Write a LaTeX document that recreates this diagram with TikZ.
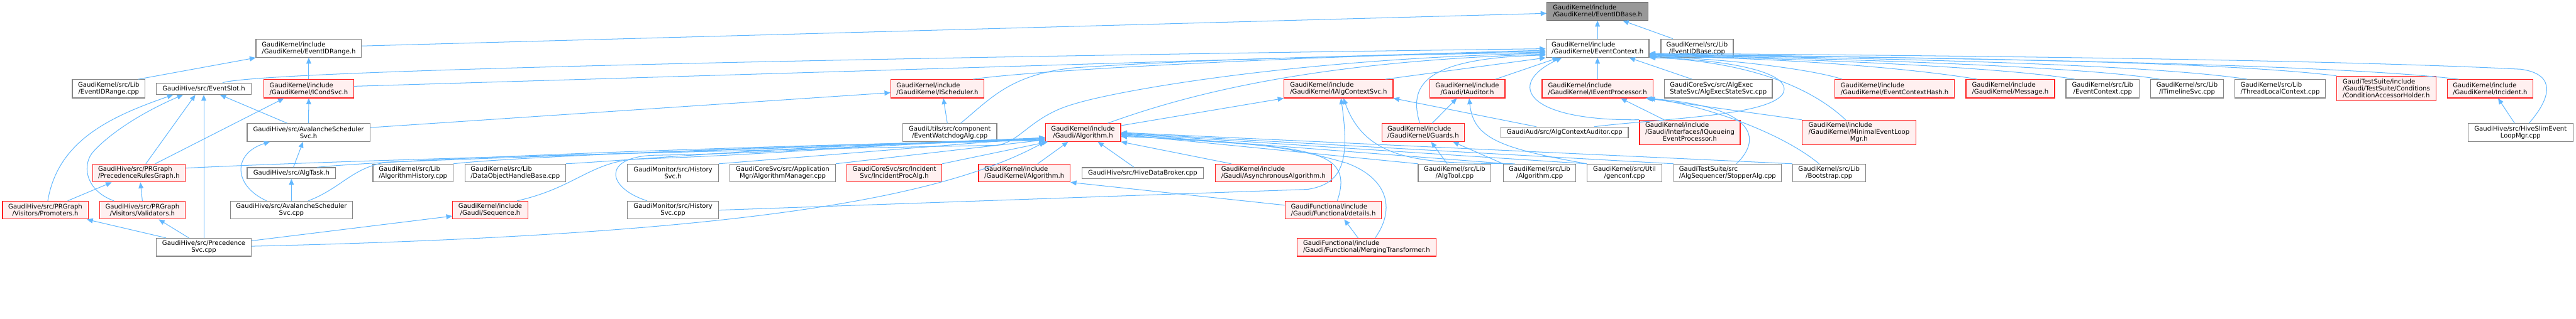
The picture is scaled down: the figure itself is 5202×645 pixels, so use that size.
\documentclass[tikz,border=0pt]{standalone}
\usepackage{fontspec}
\setmainfont{DejaVu Sans}
\usetikzlibrary{arrows.meta}
\definecolor{edgeblue}{HTML}{63B8FF}
\definecolor{filegray}{HTML}{858585}
\definecolor{rootborder}{HTML}{666666}
\definecolor{rootfill}{HTML}{999999}
\definecolor{truncred}{HTML}{FF2020}
\definecolor{truncfill}{HTML}{FFF0F0}
\newcommand{\lastcentred}[1]{\multicolumn{1}{@{}c@{}}{#1}}

\begin{document}
\begin{tikzpicture}[
  x=1pt, y=1pt,
  file/.style={rectangle, draw=filegray, fill=white, line width=1.6pt, inner sep=0pt, minimum height=37pt, align=center, font=\fontsize{12.8}{14}\selectfont},
  trunc/.style={file, draw=truncred, fill=truncfill},
  root/.style={file, draw=rootborder, fill=rootfill},
  wd/.style={minimum width=#1pt},
  ht/.style={minimum height=#1pt},
  dep/.style={draw=edgeblue, line width=1.3pt, -{Triangle[length=12pt, width=10pt]}}
]
  \useasboundingbox (0,0) rectangle (5202,-645);

  \node[root, wd=204, align=left] (idbase) at (3226,-22.5) {GaudiKernel/include\\/GaudiKernel/EventIDBase.h};
  \node[file, wd=208, align=left] (ctx) at (3226,-97.5) {GaudiKernel/include\\/GaudiKernel/EventContext.h};
  \node[file, wd=146] (idbasecpp) at (3427,-97.5) {GaudiKernel/src/Lib\\/EventIDBase.cpp};
  \node[file, wd=213, align=left] (idrange) at (623.5,-97.5) {GaudiKernel/include\\/GaudiKernel/EventIDRange.h};

  \node[file, wd=147] (idrangecpp) at (219.5,-179.5) {GaudiKernel/src/Lib\\/EventIDRange.cpp};
  \node[file, wd=191, ht=23] (slot) at (411.5,-179.5) {GaudiHive/src/EventSlot.h};
  \node[trunc, wd=181, align=left] (condsvc) at (623.5,-179.5) {GaudiKernel/include\\/GaudiKernel/ICondSvc.h};
  \node[trunc, wd=188, align=left] (sched) at (1893,-179.5) {GaudiKernel/include\\/GaudiKernel/IScheduler.h};
  \node[trunc, wd=220, align=left] (algctx) at (2703,-179.5) {GaudiKernel/include\\/GaudiKernel/IAlgContextSvc.h};
  \node[trunc, wd=152] (auditor) at (2963,-179.5) {GaudiKernel/include\\/Gaudi/IAuditor.h};
  \node[trunc, wd=224, align=left] (evproc) at (3226,-179.5) {GaudiKernel/include\\/GaudiKernel/IEventProcessor.h};
  \node[file, wd=218, align=left] (execstate) at (3470,-179.5) {GaudiCoreSvc/src/AlgExec\\StateSvc/AlgExecStateSvc.cpp};
  \node[trunc, wd=242, align=left] (ctxhash) at (3826,-179.5) {GaudiKernel/include\\/GaudiKernel/EventContextHash.h};
  \node[trunc, wd=179, align=left] (message) at (4059.5,-179.5) {GaudiKernel/include\\/GaudiKernel/Message.h};
  \node[file, wd=148] (ctxcpp) at (4246,-179.5) {GaudiKernel/src/Lib\\/EventContext.cpp};
  \node[file, wd=147] (timeline) at (4416.5,-179.5) {GaudiKernel/src/Lib\\/ITimelineSvc.cpp};
  \node[file, wd=183, align=left] (tlc) at (4604.5,-179.5) {GaudiKernel/src/Lib\\/ThreadLocalContext.cpp};
  \node[trunc, wd=200, ht=50, align=left] (condholder) at (4819,-179) {GaudiTestSuite/include\\/Gaudi/TestSuite/Conditions\\/ConditionAccessorHolder.h};
  \node[trunc, wd=173, align=left] (incident) at (5028.5,-179.5) {GaudiKernel/include\\/GaudiKernel/Incident.h};

  \node[file, wd=248, ht=36] (avalh) at (623,-268) {GaudiHive/src/AvalancheScheduler\\Svc.h};
  \node[file, wd=190, ht=36] (watchdog) at (1918,-268) {GaudiUtils/src/component\\/EventWatchdogAlg.cpp};
  \node[trunc, wd=152, ht=36] (galg) at (2187,-268) {GaudiKernel/include\\/Gaudi/Algorithm.h};
  \node[trunc, wd=166, ht=36, align=left] (guards) at (2874,-268) {GaudiKernel/include\\/GaudiKernel/Guards.h};
  \node[file, wd=257, ht=22] (ctxauditor) at (3159.5,-268) {GaudiAud/src/AlgContextAuditor.cpp};
  \node[trunc, wd=203, ht=50] (queueing) at (3412.5,-268) {\begin{tabular}{@{}l@{}}GaudiKernel/include\\/Gaudi/Interfaces/IQueueing\\\lastcentred{EventProcessor.h}\end{tabular}};
  \node[trunc, wd=230, ht=50] (minimal) at (3754,-268) {\begin{tabular}{@{}l@{}}GaudiKernel/include\\/GaudiKernel/MinimalEventLoop\\\lastcentred{Mgr.h}\end{tabular}};
  \node[file, wd=212, ht=36] (slimloop) at (5090,-268) {GaudiHive/src/HiveSlimEvent\\LoopMgr.cpp};

  \node[trunc, wd=187, ht=36, align=left] (prg) at (280.5,-350) {GaudiHive/src/PRGraph\\/PrecedenceRulesGraph.h};
  \node[file, wd=179, ht=22] (algtask) at (588.5,-350) {GaudiHive/src/AlgTask.h};
  \node[file, wd=162, ht=36, align=left] (alghist) at (834,-350) {GaudiKernel/src/Lib\\/AlgorithmHistory.cpp};
  \node[file, wd=203, ht=36, align=left] (dohb) at (1040.5,-350) {GaudiKernel/src/Lib\\/DataObjectHandleBase.cpp};
  \node[file, wd=184, ht=36] (histh) at (1359,-350) {GaudiMonitor/src/History\\Svc.h};
  \node[file, wd=213, ht=36] (algmgr) at (1580.5,-350) {GaudiCoreSvc/src/Application\\Mgr/AlgorithmManager.cpp};
  \node[trunc, wd=192, ht=36] (incproc) at (1806,-350) {GaudiCoreSvc/src/Incident\\Svc/IncidentProcAlg.h};
  \node[trunc, wd=185, ht=36, align=left] (gkalg) at (2068.5,-350) {GaudiKernel/include\\/GaudiKernel/Algorithm.h};
  \node[file, wd=245, ht=22] (broker) at (2307.5,-350) {GaudiHive/src/HiveDataBroker.cpp};
  \node[trunc, wd=235, ht=36, align=left] (async) at (2571.5,-350) {GaudiKernel/include\\/Gaudi/AsynchronousAlgorithm.h};
  \node[file, wd=147, ht=36] (algtool) at (2937.5,-350) {GaudiKernel/src/Lib\\/AlgTool.cpp};
  \node[file, wd=146, ht=36] (algcpp) at (3109,-350) {GaudiKernel/src/Lib\\/Algorithm.cpp};
  \node[file, wd=151, ht=36] (genconf) at (3280.5,-350) {GaudiKernel/src/Util\\/genconf.cpp};
  \node[file, wd=217, ht=36, align=left] (stopper) at (3488.5,-350) {GaudiTestSuite/src\\/AlgSequencer/StopperAlg.cpp};
  \node[file, wd=147, ht=36] (bootstrap) at (3693.5,-350) {GaudiKernel/src/Lib\\/Bootstrap.cpp};

  \node[trunc, wd=173, ht=36] (promoters) at (91.5,-425) {GaudiHive/src/PRGraph\\/Visitors/Promoters.h};
  \node[trunc, wd=173, ht=36] (validators) at (287.5,-425) {GaudiHive/src/PRGraph\\/Visitors/Validators.h};
  \node[file, wd=247, ht=36] (avalcpp) at (588.5,-425) {GaudiHive/src/AvalancheScheduler\\Svc.cpp};
  \node[trunc, wd=152, ht=36] (sequence) at (990,-425) {GaudiKernel/include\\/Gaudi/Sequence.h};
  \node[file, wd=184, ht=36] (histcpp) at (1359,-425) {GaudiMonitor/src/History\\Svc.cpp};
  \node[trunc, wd=195, ht=36, align=left] (details) at (2692.5,-425) {GaudiFunctional/include\\/Gaudi/Functional/details.h};

  \node[file, wd=191, ht=36] (precsvc) at (411.5,-500) {GaudiHive/src/Precedence\\Svc.cpp};
  \node[trunc, wd=281, ht=36, align=left] (merging) at (2759.5,-500) {GaudiFunctional/include\\/Gaudi/Functional/MergingTransformer.h};

  \draw[dep] (ctx.north) -- (idbase.south);
  \draw[dep] ([xshift=-49pt]idbasecpp.north) -- ([xshift=51pt]idbase.south);
  \draw[dep] ([yshift=4.5pt]idrange.east) -- ([yshift=-4.5pt]idbase.west);
  \draw[dep] ([xshift=60pt]idrangecpp.north) -- (idrange.south west);
  \draw[dep] (condsvc.north) -- (idrange.south);

  \draw[dep] ([xshift=5pt]promoters.north) .. controls +(20,120) and +(-130,-45) .. ([xshift=-62pt]slot.south);
  \draw[dep] ([xshift=-57.5pt]validators.north) .. controls +(-60,22) and +(-25,-25) .. (190,-305) .. controls +(40,43) and +(-70,-30) .. ([xshift=-42pt]slot.south);
  \draw[dep] ([xshift=14pt]prg.north) -- ([xshift=-17pt]slot.south);
  \draw[dep] (precsvc.north) -- (slot.south);
  \draw[dep] ([xshift=-43pt]avalh.north) -- ([xshift=33pt]slot.south);
  \draw[dep] ([xshift=33pt]prg.north) -- ([xshift=-50pt]condsvc.south);
  \draw[dep] (avalh.north) -- (condsvc.south);
  \draw[dep] ([xshift=45pt]promoters.north) -- ([xshift=-55pt]prg.south);
  \draw[dep] (validators.north) -- ([xshift=3pt]prg.south);
  \draw[dep] ([xshift=-76pt]precsvc.north) -- ([xshift=84pt]promoters.south);
  \draw[dep] ([xshift=-30pt]precsvc.north) -- ([xshift=33pt]validators.south);
  \draw[dep] ([yshift=13pt]precsvc.east) -- ([yshift=-12pt]sequence.west);

  \draw[dep] ([xshift=4pt]algtask.north) -- ([xshift=-11pt]avalh.south);
  \draw[dep] ([xshift=-50pt]avalcpp.north) .. controls (470,-375) and (470,-310) .. ([xshift=-78pt]avalh.south);
  \draw[dep] (avalcpp.north) -- (algtask.south);
  \draw[dep] ([yshift=10pt]avalh.east) -- ([yshift=-8pt]sched.west);
  \draw[dep] ([xshift=-5pt]watchdog.north) -- ([xshift=12pt]sched.south);

  \draw[dep] ([yshift=2pt]precsvc.east) .. controls (1500,-475) and (1900,-400) .. (galg.south west);
  \draw[dep] ([xshift=52pt]algtask.north) .. controls +(150,15) and +(-600,-10) .. ([yshift=3pt]galg.south west);
  \draw[dep] ([xshift=34pt]avalcpp.north) .. controls (690,-380) and (710,-340) .. (780,-328) .. controls +(400,15) and +(-600,-18) .. ([yshift=4pt]galg.south west);
  \draw[dep] (alghist.north east) .. controls +(100,12) and +(-600,-15) .. ([yshift=5pt]galg.south west);
  \draw[dep] (dohb.north east) .. controls +(150,8) and +(-500,-12) .. ([yshift=6pt]galg.south west);
  \draw[dep] ([xshift=54pt]sequence.north) .. controls (1160,-380) and (1190,-330) .. (1280,-322) .. controls +(300,10) and +(-400,-15) .. ([yshift=7pt]galg.south west);
  \draw[dep] ([xshift=-52pt]histcpp.north) .. controls (1225,-380) and (1215,-318) .. (1320,-314) .. controls +(300,5) and +(-400,-14) .. ([yshift=8pt]galg.south west);
  \draw[dep] (histh.north east) -- ([yshift=9pt]galg.south west);
  \draw[dep] (algmgr.north east) -- ([yshift=4pt]galg.south west);
  \draw[dep] (incproc.north east) -- ([xshift=6pt]galg.south west);
  \draw[dep] ([xshift=27pt]gkalg.north) -- ([xshift=-30pt]galg.south);
  \draw[dep] ([xshift=-17.5pt]broker.north) -- ([xshift=30pt]galg.south);
  \draw[dep] ([xshift=-85pt]async.north) -- (galg.south east);

  \draw[dep] (algtool.north west) -- ([yshift=-4pt]galg.east);
  \draw[dep] ([xshift=8pt]algcpp.north west) -- ([yshift=-3pt]galg.east);
  \draw[dep] (genconf.north west) -- ([yshift=-2pt]galg.east);
  \draw[dep] (stopper.north west) -- ([yshift=-1pt]galg.east);
  \draw[dep] (bootstrap.north west) -- (galg.east);
  \draw[dep] ([xshift=8pt]details.north) .. controls (2740,-290) and (2620,-300) .. ([yshift=-6pt]galg.east);
  \draw[dep] ([xshift=17.5pt]merging.north) .. controls (2820,-420) and (2800,-360) .. (2720,-330) .. controls +(-120,35) and +(250,-10) .. ([yshift=-8pt]galg.east);
  \draw[dep] ([xshift=-17pt]merging.north) -- ([xshift=22pt]details.south);
  \draw[dep] ([yshift=10pt]details.west) -- (gkalg.south east);

  \draw[dep] ([yshift=14pt]galg.east) -- (algctx.south west);
  \draw[dep] (histcpp.east) -- (2640,-383) .. controls (2715,-372) and (2725,-320) .. ([xshift=5pt]algctx.south);
  \draw[dep] ([xshift=-50pt]algcpp.north) .. controls (2880,-330) and (2760,-330) .. ([xshift=10pt]algctx.south);
  \draw[dep] ([xshift=-57pt]ctxauditor.north) -- (algctx.south east);
  \draw[dep] ([xshift=-15pt]algtool.north) -- ([xshift=16pt]guards.south);
  \draw[dep] (algcpp.north west) -- ([xshift=60pt]guards.south);
  \draw[dep] ([xshift=18pt]guards.north) -- ([xshift=-21pt]auditor.south);
  \draw[dep] (genconf.north west) .. controls (3030,-300) and (2975,-280) .. ([xshift=4pt]auditor.south);

  \draw[dep] ([xshift=-52pt]queueing.north) -- ([xshift=47pt]evproc.south);
  \draw[dep] (minimal.north west) -- ([xshift=100pt]evproc.south);
  \draw[dep] ([xshift=-20pt]bootstrap.north) .. controls (3600,-270) and (3450,-215) .. ([xshift=104pt]evproc.south);
  \draw[dep] ([xshift=18pt]stopper.north) .. controls (3560,-280) and (3545,-215) .. ([xshift=97pt]evproc.south);
  \draw[dep] ([xshift=-12pt]slimloop.north) -- ([xshift=16pt]incident.south);

  \draw[dep] ([xshift=38pt]slot.north) .. controls (540,-140) and (2000,-113) .. ([yshift=-1pt]ctx.west);
  \draw[dep] ([yshift=5pt]condsvc.east) -- ([yshift=-4pt]ctx.west);
  \draw[dep] ([xshift=72pt]sched.north) .. controls +(120,18) and +(-500,-10) .. ([yshift=-6pt]ctx.west);
  \draw[dep] ([xshift=22pt]watchdog.north) .. controls (2000,-200) and (2040,-150) .. (2170,-137) .. controls +(330,22) and +(-220,-5) .. ([yshift=-8pt]ctx.west);
  \draw[dep] ([yshift=10pt]prg.east) .. controls +(400,20) and +(-300,-5) .. (2010,-294) .. controls (2060,-290) and (2080,-235) .. (2170,-210) .. controls (2250,-185) and (2600,-120) .. ([yshift=-10pt]ctx.west);
  \draw[dep] ([xshift=50pt]galg.north) .. controls (2400,-190) and (2650,-125) .. ([yshift=-12pt]ctx.west);
  \draw[dep] ([xshift=-7pt]guards.north) .. controls (2845,-175) and (2870,-118) .. ([yshift=-14pt]ctx.west);
  \draw[dep] ([xshift=95pt]algctx.north) -- (ctx.south west);

  \draw[dep] ([xshift=57pt]auditor.north) -- ([xshift=-79pt]ctx.south);
  \draw[dep] (evproc.north) -- (ctx.south);
  \draw[dep] ([xshift=-53pt]execstate.north) -- ([xshift=64pt]ctx.south);
  \draw[dep] (queueing.north west) .. controls (3080,-245) and (3040,-170) .. ([xshift=-72pt]ctx.south);
  \draw[dep] ([xshift=60pt]ctxauditor.north) .. controls (3350,-240) and (3570,-235) .. (3600,-190) .. controls (3625,-145) and (3480,-120) .. (ctx.south east);

  \draw[dep] ([xshift=-27pt]minimal.north) .. controls (3650,-170) and (3520,-125) .. ([yshift=1pt]ctx.south east);
  \draw[dep] ([xshift=-106pt]ctxhash.north) .. controls +(-60,20) and +(150,-3) .. ([yshift=2pt]ctx.south east);
  \draw[dep] ([xshift=-66.5pt]message.north) .. controls +(-120,20) and +(300,-4) .. ([yshift=3pt]ctx.south east);
  \draw[dep] ([xshift=-56pt]ctxcpp.north) .. controls +(-150,25) and +(300,-5) .. ([yshift=4pt]ctx.south east);
  \draw[dep] ([xshift=-55pt]timeline.north) .. controls +(-150,25) and +(400,-6) .. ([yshift=5pt]ctx.south east);
  \draw[dep] ([xshift=-66.5pt]tlc.north) .. controls +(-200,30) and +(500,-7) .. ([yshift=6pt]ctx.south east);
  \draw[dep] (condholder.north west) .. controls +(-250,30) and +(600,-8) .. ([yshift=7pt]ctx.south east);
  \draw[dep] ([xshift=-63.5pt]incident.north) .. controls +(-250,30) and +(700,-10) .. ([yshift=8pt]ctx.south east);
  \draw[dep] ([xshift=17pt]slimloop.north) .. controls (5150,-200) and (5165,-150) .. (5090,-140) .. controls (4700,-120) and (3900,-112) .. ([yshift=9pt]ctx.south east);
\end{tikzpicture}
\end{document}
